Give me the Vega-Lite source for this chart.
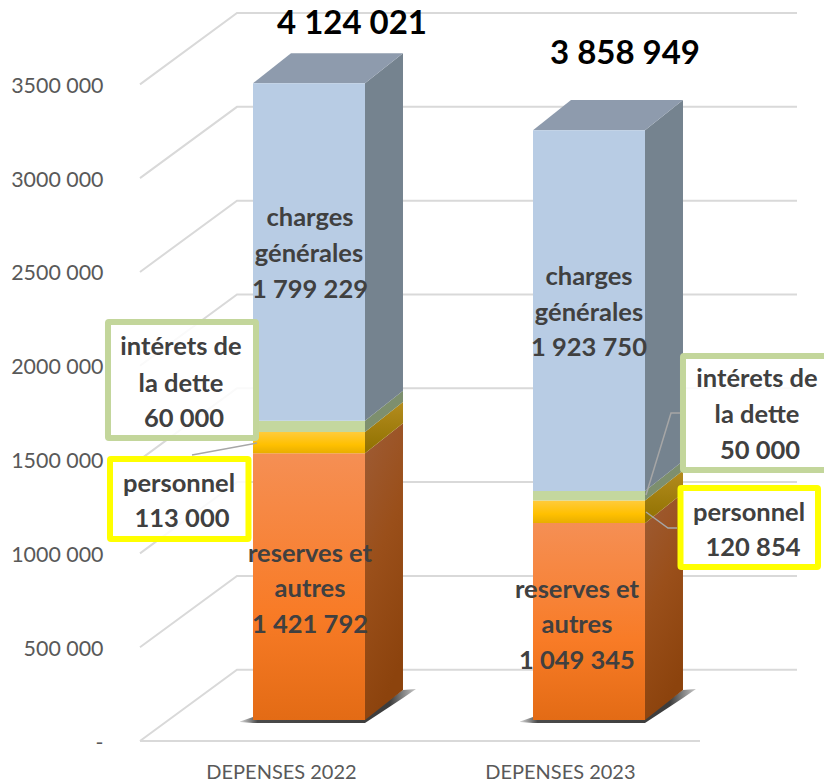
{"$schema":"https://vega.github.io/schema/vega-lite/v6.json","width":714,"height":741,"autosize":"none","padding":{"left":110,"right":0,"top":0,"bottom":42},"background":"white","config":{"view":{"stroke":null},"font":"Lato"},
"datasets":{
"fronts":[
{"bar":"DEPENSES 2022","segment":"reserves et autres","pos":0.8,"pos2":1.2,"low":0,"high":1421792},
{"bar":"DEPENSES 2022","segment":"personnel","pos":0.8,"pos2":1.2,"low":1421792,"high":1534792},
{"bar":"DEPENSES 2022","segment":"interets","pos":0.8,"pos2":1.2,"low":1534792,"high":1594792},
{"bar":"DEPENSES 2022","segment":"charges","pos":0.8,"pos2":1.2,"low":1594792,"high":3394021},
{"bar":"DEPENSES 2023","segment":"reserves et autres","pos":1.8,"pos2":2.2,"low":0,"high":1049345},
{"bar":"DEPENSES 2023","segment":"personnel","pos":1.8,"pos2":2.2,"low":1049345,"high":1170199},
{"bar":"DEPENSES 2023","segment":"interets","pos":1.8,"pos2":2.2,"low":1170199,"high":1220199},
{"bar":"DEPENSES 2023","segment":"charges","pos":1.8,"pos2":2.2,"low":1220199,"high":3143949}],
"sides":[
{"bar":"DEPENSES 2022","segment":"reserves et autres","pos":1.2,"low":0,"high":1421792},
{"bar":"DEPENSES 2022","segment":"reserves et autres","pos":1.3357,"low":160000,"high":1581792},
{"bar":"DEPENSES 2022","segment":"personnel","pos":1.2,"low":1421792,"high":1534792},
{"bar":"DEPENSES 2022","segment":"personnel","pos":1.3357,"low":1581792,"high":1694792},
{"bar":"DEPENSES 2022","segment":"interets","pos":1.2,"low":1534792,"high":1594792},
{"bar":"DEPENSES 2022","segment":"interets","pos":1.3357,"low":1694792,"high":1754792},
{"bar":"DEPENSES 2022","segment":"charges","pos":1.2,"low":1594792,"high":3394021},
{"bar":"DEPENSES 2022","segment":"charges","pos":1.3357,"low":1754792,"high":3554021},
{"bar":"DEPENSES 2023","segment":"reserves et autres","pos":2.2,"low":0,"high":1049345},
{"bar":"DEPENSES 2023","segment":"reserves et autres","pos":2.3357,"low":160000,"high":1209345},
{"bar":"DEPENSES 2023","segment":"personnel","pos":2.2,"low":1049345,"high":1170199},
{"bar":"DEPENSES 2023","segment":"personnel","pos":2.3357,"low":1209345,"high":1330199},
{"bar":"DEPENSES 2023","segment":"interets","pos":2.2,"low":1170199,"high":1220199},
{"bar":"DEPENSES 2023","segment":"interets","pos":2.3357,"low":1330199,"high":1380199},
{"bar":"DEPENSES 2023","segment":"charges","pos":2.2,"low":1220199,"high":3143949},
{"bar":"DEPENSES 2023","segment":"charges","pos":2.3357,"low":1380199,"high":3303949}],
"tops":[
{"bar":"DEPENSES 2022","pos":0.8,"low":3394021,"high":3394021},
{"bar":"DEPENSES 2022","pos":0.9357,"low":3394021,"high":3554021},
{"bar":"DEPENSES 2022","pos":1.2,"low":3394021,"high":3554021},
{"bar":"DEPENSES 2022","pos":1.3357,"low":3554021,"high":3554021},
{"bar":"DEPENSES 2023","pos":1.8,"low":3143949,"high":3143949},
{"bar":"DEPENSES 2023","pos":1.9357,"low":3143949,"high":3303949},
{"bar":"DEPENSES 2023","pos":2.2,"low":3143949,"high":3303949},
{"bar":"DEPENSES 2023","pos":2.3357,"low":3303949,"high":3303949}],
"shadows":[
{"bar":"DEPENSES 2022","pos":0.7536,"low":-10660,"high":-8000},
{"bar":"DEPENSES 2022","pos":0.8,"low":-15990,"high":15990},
{"bar":"DEPENSES 2022","pos":1.2,"low":-15990,"high":15990},
{"bar":"DEPENSES 2022","pos":1.3357,"low":117000,"high":159900},
{"bar":"DEPENSES 2022","pos":1.3821,"low":165230,"high":165230},
{"bar":"DEPENSES 2023","pos":1.7536,"low":-10660,"high":-8000},
{"bar":"DEPENSES 2023","pos":1.8,"low":-15990,"high":15990},
{"bar":"DEPENSES 2023","pos":2.2,"low":-15990,"high":15990},
{"bar":"DEPENSES 2023","pos":2.3357,"low":117000,"high":159900},
{"bar":"DEPENSES 2023","pos":2.3821,"low":165230,"high":165230}],
"grid":[
{"tick":"0","step":1,"pos":0.3964,"level":0},{"tick":"0","step":2,"pos":0.7429,"level":380000},{"tick":"0","step":3,"pos":2.7429,"level":380000},
{"tick":"floor","step":1,"pos":0.3964,"level":0},{"tick":"floor","step":2,"pos":2.3964,"level":0},
{"tick":"500000","step":1,"pos":0.3964,"level":500000},{"tick":"500000","step":2,"pos":0.7429,"level":880000},{"tick":"500000","step":3,"pos":2.7429,"level":880000},
{"tick":"1000000","step":1,"pos":0.3964,"level":1000000},{"tick":"1000000","step":2,"pos":0.7429,"level":1380000},{"tick":"1000000","step":3,"pos":2.7429,"level":1380000},
{"tick":"1500000","step":1,"pos":0.3964,"level":1500000},{"tick":"1500000","step":2,"pos":0.7429,"level":1880000},{"tick":"1500000","step":3,"pos":2.7429,"level":1880000},
{"tick":"2000000","step":1,"pos":0.3964,"level":2000000},{"tick":"2000000","step":2,"pos":0.7429,"level":2380000},{"tick":"2000000","step":3,"pos":2.7429,"level":2380000},
{"tick":"2500000","step":1,"pos":0.3964,"level":2500000},{"tick":"2500000","step":2,"pos":0.7429,"level":2880000},{"tick":"2500000","step":3,"pos":2.7429,"level":2880000},
{"tick":"3000000","step":1,"pos":0.3964,"level":3000000},{"tick":"3000000","step":2,"pos":0.7429,"level":3380000},{"tick":"3000000","step":3,"pos":2.7429,"level":3380000},
{"tick":"3500000","step":1,"pos":0.3964,"level":3500000},{"tick":"3500000","step":2,"pos":0.7429,"level":3880000},{"tick":"3500000","step":3,"pos":2.7429,"level":3880000}],
"boxes":[
{"name":"interets 2022","kind":"green","pos":0.2821,"pos2":0.8107,"low":1614990,"high":2233270},
{"name":"personnel 2022","kind":"yellow","pos":0.2893,"pos2":0.7839,"low":1076660,"high":1503060},
{"name":"interets 2023","kind":"green","pos":2.3357,"pos2":2.8607,"low":1444430,"high":2052050},
{"name":"personnel 2023","kind":"yellow","pos":2.3268,"pos2":2.8179,"low":927420,"high":1348490}],
"leaders":[
{"name":"a","step":1,"pos":0.8143,"level":1588340},{"name":"a","step":2,"pos":0.5821,"level":1524380},
{"name":"b","step":1,"pos":2.2036,"level":1311180},{"name":"b","step":2,"pos":2.2929,"level":1748240},{"name":"b","step":3,"pos":2.325,"level":1748240},
{"name":"c","step":1,"pos":2.2036,"level":1220570},{"name":"c","step":2,"pos":2.2821,"level":1135290},{"name":"c","step":3,"pos":2.3143,"level":1135290}],
"labels":[
{"label":"charges","pos":1.0036,"level":2792920},{"label":"générales","pos":1,"level":2601040},{"label":"1 799 229","pos":1.0036,"level":2409160},
{"label":"charges","pos":2,"level":2478450},{"label":"générales","pos":2,"level":2286570},{"label":"1 923 750","pos":2,"level":2100020},
{"label":"reserves et","pos":1.0036,"level":1002040},{"label":"autres","pos":1.0036,"level":815490},{"label":"1 421 792","pos":1.0036,"level":623610},
{"label":"reserves et","pos":1.957,"level":810160},{"label":"autres","pos":1.957,"level":623610},{"label":"1 049 345","pos":1.957,"level":431730},
{"label":"intérets de","pos":0.5429,"level":2105350},{"label":"la dette","pos":0.5429,"level":1908140},{"label":"60 000","pos":0.5536,"level":1721590},
{"label":"personnel","pos":0.5357,"level":1375140},{"label":"113 000","pos":0.5464,"level":1188590},
{"label":"intérets de","pos":2.6,"level":1934790},{"label":"la dette","pos":2.6,"level":1742910},{"label":"50 000","pos":2.6107,"level":1551030},
{"label":"personnel","pos":2.5714,"level":1220570},{"label":"120 854","pos":2.5857,"level":1034020}],
"totals":[{"label":"4 124 021","pos":1.1536,"level":3821610},{"label":"3 858 949","pos":2.1286,"level":3661710}]
},
"layer":[
{"data":{"name":"grid"},"mark":{"type":"line","color":"#D9D9D9","strokeWidth":2},
"encoding":{"x":{"field":"pos","type":"quantitative","scale":{"domain":[0.2893,2.8393],"nice":false,"zero":false},"axis":{"values":[0.9,1.896],"labelExpr":"datum.value<1.5?'DEPENSES 2022':'DEPENSES 2023'","title":null,"grid":false,"domain":false,"ticks":false,"labelFontSize":20,"labelColor":"#595959","labelPadding":21,"labelFont":"Lato","labelOverlap":false,"labelFlush":false}},
"y":{"field":"level","type":"quantitative","scale":{"domain":[0,3949530],"nice":false,"zero":false},"axis":{"values":[0,500000,1000000,1500000,2000000,2500000,3000000,3500000],"labelExpr":"datum.value==0?'-\u00a0\u00a0\u00a0':floor(datum.value/1000)+' 000'","title":null,"grid":false,"domain":false,"ticks":false,"labelFontSize":21.4,"labelColor":"#595959","labelPadding":7,"labelFont":"Lato","labelOffset":2}},
"detail":{"field":"tick"},"order":{"field":"step","type":"quantitative"}}},
{"data":{"name":"shadows"},"mark":{"type":"area","orient":"vertical","yOffset":-21,"y2Offset":-21,"color":{"gradient":"linear","x1":0,"y1":0,"x2":1,"y2":0,"stops":[{"offset":0,"color":"#d8d8d8"},{"offset":0.1,"color":"#4a4a4a"},{"offset":0.85,"color":"#3c3c3c"},{"offset":1,"color":"#c8c8c8"}]}},
"encoding":{"x":{"field":"pos","type":"quantitative"},"y":{"field":"low","type":"quantitative"},"y2":{"field":"high"},"detail":{"field":"bar"}}},
{"data":{"name":"sides"},"transform":[{"filter":"datum.segment=='reserves et autres'"}],"mark":{"type":"area","orient":"vertical","yOffset":-21,"y2Offset":-21,"color":{"gradient":"linear","x1":0,"y1":0,"x2":0.3,"y2":1,"stops":[{"offset":0,"color":"#9E5C36"},{"offset":0.5,"color":"#9A4F1A"},{"offset":1,"color":"#8C430D"}]}},
"encoding":{"x":{"field":"pos","type":"quantitative"},"y":{"field":"low","type":"quantitative"},"y2":{"field":"high"},"detail":{"field":"bar"}}},
{"data":{"name":"sides"},"transform":[{"filter":"datum.segment=='personnel'"}],"mark":{"type":"area","orient":"vertical","yOffset":-21,"y2Offset":-21,"color":{"gradient":"linear","x1":0,"y1":0,"x2":0,"y2":1,"stops":[{"offset":0,"color":"#B48C1E"},{"offset":1,"color":"#8F7000"}]}},
"encoding":{"x":{"field":"pos","type":"quantitative"},"y":{"field":"low","type":"quantitative"},"y2":{"field":"high"},"detail":{"field":"bar"}}},
{"data":{"name":"sides"},"transform":[{"filter":"datum.segment=='interets'"}],"mark":{"type":"area","orient":"vertical","yOffset":-21,"y2Offset":-21,"color":"#7D8F6E"},
"encoding":{"x":{"field":"pos","type":"quantitative"},"y":{"field":"low","type":"quantitative"},"y2":{"field":"high"},"detail":{"field":"bar"}}},
{"data":{"name":"sides"},"transform":[{"filter":"datum.segment=='charges'"}],"mark":{"type":"area","orient":"vertical","yOffset":-21,"y2Offset":-21,"color":"#75838F"},
"encoding":{"x":{"field":"pos","type":"quantitative"},"y":{"field":"low","type":"quantitative"},"y2":{"field":"high"},"detail":{"field":"bar"}}},
{"data":{"name":"tops"},"mark":{"type":"area","orient":"vertical","yOffset":-21,"y2Offset":-21,"color":"#8E9BAD"},
"encoding":{"x":{"field":"pos","type":"quantitative"},"y":{"field":"low","type":"quantitative"},"y2":{"field":"high"},"detail":{"field":"bar"}}},
{"data":{"name":"fronts"},"transform":[{"filter":"datum.segment=='reserves et autres'"}],"mark":{"type":"rect","yOffset":-21,"y2Offset":-21,"color":{"gradient":"linear","x1":0,"y1":0,"x2":0,"y2":1,"stops":[{"offset":0,"color":"#F58F54"},{"offset":0.6,"color":"#F87B26"},{"offset":1,"color":"#E36B15"}]}},
"encoding":{"x":{"field":"pos","type":"quantitative"},"x2":{"field":"pos2"},"y":{"field":"low","type":"quantitative"},"y2":{"field":"high"}}},
{"data":{"name":"fronts"},"transform":[{"filter":"datum.segment=='personnel'"}],"mark":{"type":"rect","yOffset":-21,"y2Offset":-21,"color":{"gradient":"linear","x1":0,"y1":0,"x2":0,"y2":1,"stops":[{"offset":0,"color":"#FFCB3C"},{"offset":0.6,"color":"#FFC000"},{"offset":1,"color":"#E8AE00"}]}},
"encoding":{"x":{"field":"pos","type":"quantitative"},"x2":{"field":"pos2"},"y":{"field":"low","type":"quantitative"},"y2":{"field":"high"}}},
{"data":{"name":"fronts"},"transform":[{"filter":"datum.segment=='interets'"}],"mark":{"type":"rect","yOffset":-21,"y2Offset":-21,"color":"#C4D79E"},
"encoding":{"x":{"field":"pos","type":"quantitative"},"x2":{"field":"pos2"},"y":{"field":"low","type":"quantitative"},"y2":{"field":"high"}}},
{"data":{"name":"fronts"},"transform":[{"filter":"datum.segment=='charges'"}],"mark":{"type":"rect","yOffset":-21,"y2Offset":-21,"color":"#B8CCE4"},
"encoding":{"x":{"field":"pos","type":"quantitative"},"x2":{"field":"pos2"},"y":{"field":"low","type":"quantitative"},"y2":{"field":"high"}}},
{"data":{"name":"leaders"},"mark":{"type":"line","color":"#A6A6A6","strokeWidth":1.5},
"encoding":{"x":{"field":"pos","type":"quantitative"},"y":{"field":"level","type":"quantitative"},"detail":{"field":"name"},"order":{"field":"step","type":"quantitative"}}},
{"data":{"name":"boxes"},"transform":[{"filter":"datum.kind=='green'"}],"mark":{"type":"rect","fill":"white","fillOpacity":0.85,"stroke":"#C3D69B","strokeWidth":6,"cornerRadius":1},
"encoding":{"x":{"field":"pos","type":"quantitative"},"x2":{"field":"pos2"},"y":{"field":"low","type":"quantitative"},"y2":{"field":"high"}}},
{"data":{"name":"boxes"},"transform":[{"filter":"datum.kind=='yellow'"}],"mark":{"type":"rect","fill":"white","fillOpacity":0.85,"stroke":"#FFFF00","strokeWidth":6,"cornerRadius":1},
"encoding":{"x":{"field":"pos","type":"quantitative"},"x2":{"field":"pos2"},"y":{"field":"low","type":"quantitative"},"y2":{"field":"high"}}},
{"data":{"name":"labels"},"mark":{"type":"text","font":"Lato","fontWeight":"bold","fontSize":25.5,"dy":1,"color":"#404040","baseline":"middle","align":"center"},
"encoding":{"x":{"field":"pos","type":"quantitative"},"y":{"field":"level","type":"quantitative"},"text":{"field":"label"}}},
{"data":{"name":"totals"},"mark":{"type":"text","font":"Lato","fontWeight":"bold","fontSize":33,"color":"#000000","baseline":"middle","align":"center"},
"encoding":{"x":{"field":"pos","type":"quantitative"},"y":{"field":"level","type":"quantitative"},"text":{"field":"label"}}}
]}
